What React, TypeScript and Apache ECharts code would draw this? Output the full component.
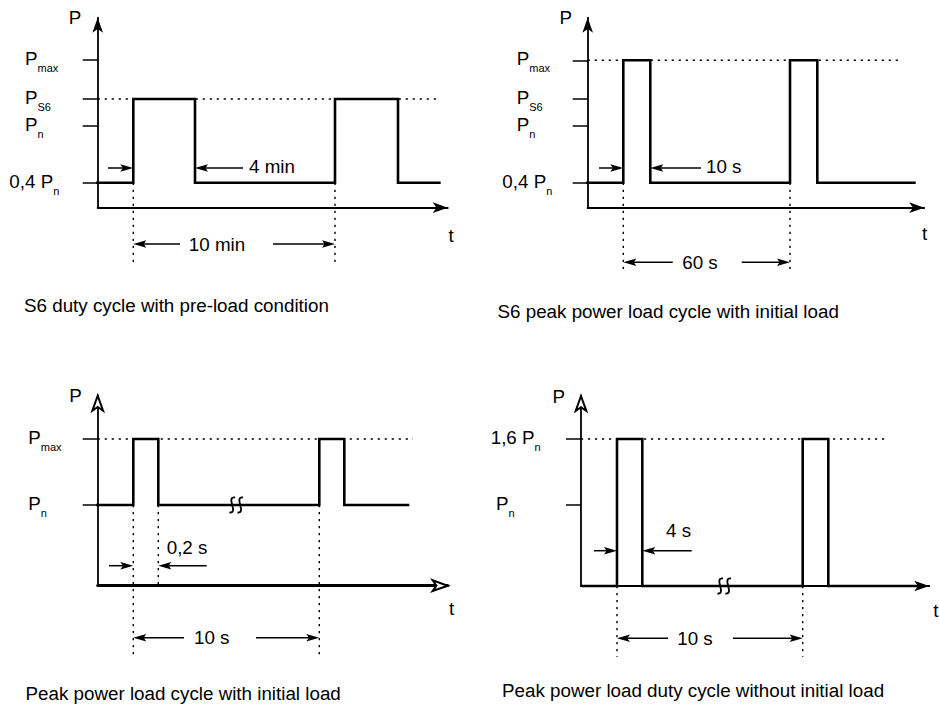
import React, { useEffect, useRef } from 'react';
import * as echarts from 'echarts';

const FONT = '"Liberation Sans", Arial, Helvetica, sans-serif';
const FS = 18.8; // main text size
const UNIT = 10; // pixels per diagram unit on both axes

// ---------- Panel 1: S6 duty cycle with pre-load condition ----------
const p1Caption = 'S6 duty cycle with pre-load condition';
const p1Time = [-1.47, 3.56, 3.56, 9.73, 9.73, 23.73, 23.73, 30.03, 30.03, 34.3];
const p1Power = [2.5, 2.5, 10.87, 10.87, 2.5, 2.5, 10.87, 10.87, 2.5, 2.5];
const p1TickValues = [14.77, 10.87, 8.17, 2.5];
const p1TickMain = ['P', 'P', 'P', '0,4 P'];
const p1TickSub = ['max', 'S6', 'n', 'n'];
const p1Guides = [[0, 10.87, 33.93, 10.87], [3.56, 2.5, 3.56, -5.43], [23.73, 2.5, 23.73, -5.43]];
const p1Arrows = [[1.03, 3.97, 3.56, 3.97], [14.53, 3.97, 9.73, 3.97], [8.23, -3.63, 3.56, -3.63], [17.53, -3.63, 23.73, -3.63]];
const p1Notes = ['4 min', '10 min'];
const p1NoteX = [15.13, 11.93];
const p1NoteY = [4.17, -3.63];
const p1Breaks: number[][] = [];

// ---------- Panel 2: S6 peak power load cycle with initial load ----------
const p2Caption = 'S6 peak power load cycle with initial load';
const p2Time = [-1.54, 3.56, 3.56, 6.26, 6.26, 20.23, 20.23, 22.96, 22.96, 32.8];
const p2Power = [2.5, 2.5, 14.74, 14.74, 2.5, 2.5, 14.74, 14.74, 2.5, 2.5];
const p2TickValues = [14.74, 10.87, 8.17, 2.5];
const p2TickMain = ['P', 'P', 'P', '0,4 P'];
const p2TickSub = ['max', 'S6', 'n', 'n'];
const p2Guides = [[0, 14.74, 31.33, 14.74], [3.56, 2.5, 3.56, -6.53], [20.23, 2.5, 20.23, -6.53]];
const p2Arrows = [[1.13, 3.97, 3.56, 3.97], [11.33, 3.97, 6.26, 3.97], [8.5, -5.46, 3.56, -5.46], [15.4, -5.46, 20.23, -5.46]];
const p2Notes = ['10 s', '60 s'];
const p2NoteX = [11.83, 11.23];
const p2NoteY = [4.17, -5.46];
const p2Breaks: number[][] = [];

// ---------- Panel 3: Peak power load cycle with initial load ----------
const p3Caption = 'Peak power load cycle with initial load';
const p3Time = [-1.47, 3.56, 3.56, 6.06, 6.06, 22.16, 22.16, 24.66, 24.66, 31.16];
const p3Power = [8.07, 8.07, 14.67, 14.67, 8.07, 8.07, 14.67, 14.67, 8.07, 8.07];
const p3TickValues = [14.67, 8.07];
const p3TickMain = ['P', 'P'];
const p3TickSub = ['max', 'n'];
const p3Guides = [[0, 14.67, 31.53, 14.67], [3.56, 8.07, 3.56, -6.93], [6.06, 8.07, 6.06, 0], [22.16, 8.07, 22.16, -6.93]];
const p3Arrows = [[1.13, 2.0, 3.56, 2.0], [10.9, 2.0, 6.06, 2.0], [8.63, -5.2, 3.56, -5.2], [15.83, -5.2, 22.16, -5.2]];
const p3Notes = ['0,2 s', '10 s'];
const p3NoteX = [6.9, 11.4];
const p3NoteY = [3.8, -5.2];
const p3Breaks = [[13.85, 8.07]];

// ---------- Panel 4: Peak power load duty cycle without initial load ----------
const p4Caption = 'Peak power load duty cycle without initial load';
const p4Time = [0, 3.6, 3.6, 6.13, 6.13, 22.17, 22.17, 24.73, 24.73, 34.0];
const p4Power = [0, 0, 14.7, 14.7, 0, 0, 14.7, 14.7, 0, 0];
const p4TickValues = [14.7, 8.1];
const p4TickMain = ['1,6 P', 'P'];
const p4TickSub = ['n', 'n'];
const p4Guides = [[0, 14.7, 30.7, 14.7], [3.6, 0, 3.6, -7.07], [22.17, 0, 22.17, -7.07]];
const p4Arrows = [[1.3, 3.53, 3.6, 3.53], [11.07, 3.53, 6.13, 3.53], [8.7, -5.23, 3.6, -5.23], [15.2, -5.23, 22.17, -5.23]];
const p4Notes = ['4 s', '10 s'];
const p4NoteX = [8.5, 11.4];
const p4NoteY = [5.53, -5.23];
const p4Breaks = [[14.32, 0]];

// axis ranges (diagram units) and axis titles
const axisXMax = [35, 33.65, 35, 34.82];
const axisYMax = [19, 19, 19, 19];
const xAxisTitle = 't';
const yAxisTitle = 'P';

const panels = [
  { caption: p1Caption, time: p1Time, power: p1Power, ticks: p1TickValues, main: p1TickMain, sub: p1TickSub, guides: p1Guides, arrows: p1Arrows, notes: p1Notes, noteX: p1NoteX, noteY: p1NoteY, breaks: p1Breaks },
  { caption: p2Caption, time: p2Time, power: p2Power, ticks: p2TickValues, main: p2TickMain, sub: p2TickSub, guides: p2Guides, arrows: p2Arrows, notes: p2Notes, noteX: p2NoteX, noteY: p2NoteY, breaks: p2Breaks },
  { caption: p3Caption, time: p3Time, power: p3Power, ticks: p3TickValues, main: p3TickMain, sub: p3TickSub, guides: p3Guides, arrows: p3Arrows, notes: p3Notes, noteX: p3NoteX, noteY: p3NoteY, breaks: p3Breaks },
  { caption: p4Caption, time: p4Time, power: p4Power, ticks: p4TickValues, main: p4TickMain, sub: p4TickSub, guides: p4Guides, arrows: p4Arrows, notes: p4Notes, noteX: p4NoteX, noteY: p4NoteY, breaks: p4Breaks },
];

// layout (pixels)
const layout = [
  { x0: 97.7, y0: 207.7, labelLeft: 9.3, prefix: 15.7, pShift: [-22.7, -2.7], tShift: [3.3, 27.3], capX: 24, capY: 305, yArrow: 'arrow', xArrow: 'arrow', xWidth: 2, noteAlign: ['left', 'center'] },
  { x0: 587.7, y0: 207.7, labelLeft: 502.3, prefix: 14.4, pShift: [-22, -3.5], tShift: [0.3, 25.3], capX: 497.5, capY: 311.3, yArrow: 'arrow', xArrow: 'arrow', xWidth: 2, noteAlign: ['left', 'center'] },
  { x0: 97.7, y0: 585.7, labelLeft: 28.3, prefix: 0, pShift: [-22.2, -4.9], tShift: [3.8, 23.1], capX: 25.5, capY: 693, yArrow: 'emptyArrow', xArrow: 'emptyArrow', xWidth: 3, noteAlign: ['left', 'center'] },
  { x0: 581, y0: 586, labelLeft: 490.7, prefix: 5.3, pShift: [-22.2, -4.8], tShift: [6.6, 24.8], capX: 502, capY: 690, yArrow: 'emptyArrow', xArrow: 'arrow', xWidth: 2, noteAlign: ['left', 'center'] },
];

function shiftPadding(sx: number, sy: number) {
  return [Math.max(0, 2 * sy), Math.max(0, -2 * sx), Math.max(0, -2 * sy), Math.max(0, 2 * sx)];
}

function buildOption() {
  const grid: any[] = [];
  const xAxis: any[] = [];
  const yAxis: any[] = [];
  const series: any[] = [];
  const title: any[] = [];

  panels.forEach((d, i) => {
    const L = layout[i];
    const xMax = axisXMax[i];
    const yMax = axisYMax[i];
    grid.push({
      left: L.x0,
      top: L.y0 - yMax * UNIT,
      width: xMax * UNIT,
      height: yMax * UNIT,
      outerBoundsMode: 'none',
      containLabel: false,
    });
    xAxis.push({
      type: 'value',
      gridIndex: i,
      min: 0,
      max: xMax,
      axisLine: {
        show: true,
        onZero: false,
        symbol: ['none', L.xArrow],
        symbolSize: [8, 15],
        lineStyle: { color: '#000', width: L.xWidth },
      },
      axisTick: { show: false },
      axisLabel: { show: false },
      splitLine: { show: false },
    });
    yAxis.push({
      type: 'value',
      gridIndex: i,
      min: 0,
      max: yMax,
      name: yAxisTitle,
      nameLocation: 'end',
      nameGap: 0,
      nameMoveOverlap: false,
      nameTextStyle: {
        fontSize: FS,
        fontFamily: FONT,
        color: '#000',
        align: 'center',
        verticalAlign: 'middle',
        padding: shiftPadding(L.pShift[0], L.pShift[1]),
      },
      axisLine: {
        show: true,
        onZero: false,
        symbol: ['none', L.yArrow],
        symbolSize: [8, 15],
        lineStyle: { color: '#000', width: 1.8 },
      },
      axisTick: {
        show: true,
        length: 15,
        customValues: d.ticks,
        lineStyle: { color: '#000', width: 1.5 },
      },
      axisLabel: {
        show: true,
        customValues: d.ticks,
        margin: L.x0 - L.labelLeft,
        align: 'left',
        verticalAlign: 'middle',
        formatter: (v: number) => {
          const k = d.ticks.findIndex((t) => Math.abs(t - v) < 1e-6);
          if (k < 0) return '';
          const m = d.main[k];
          const pre = m.length === 1 && L.prefix > 0 ? '{pre| }' : '';
          return pre + '{m|' + m + '}{s|' + d.sub[k] + '}';
        },
        rich: {
          pre: { width: L.prefix, fontSize: FS, fontFamily: FONT, lineHeight: 20 },
          m: { fontSize: FS, fontFamily: FONT, color: '#000', lineHeight: 20, padding: [0, 0, 3, 0], verticalAlign: 'middle' },
          s: { fontSize: 11, fontFamily: FONT, color: '#000', lineHeight: 12, padding: [16, 0, 0, 0], verticalAlign: 'middle' },
        },
      },
      splitLine: { show: false },
    });

    // dotted guide lines
    series.push({
      type: 'custom',
      xAxisIndex: i,
      yAxisIndex: i,
      silent: true,
      z: 1,
      data: d.guides,
      renderItem: (params: any, api: any) => {
        const a = api.coord([api.value(0), api.value(1)]);
        const b = api.coord([api.value(2), api.value(3)]);
        return {
          type: 'line',
          shape: { x1: a[0], y1: a[1], x2: b[0], y2: b[1] },
          style: { stroke: '#000', lineWidth: 1.4, lineDash: [2.2, 4.8] },
        };
      },
    });

    // signal
    series.push({
      type: 'line',
      xAxisIndex: i,
      yAxisIndex: i,
      clip: false,
      silent: true,
      z: 3,
      symbol: 'none',
      data: d.time.map((t, k) => [t, d.power[k]]),
      lineStyle: { color: '#000', width: 2.6, join: 'miter', cap: 'butt' },
    });

    // dimension arrows
    series.push({
      type: 'custom',
      xAxisIndex: i,
      yAxisIndex: i,
      silent: true,
      z: 4,
      data: d.arrows,
      renderItem: (params: any, api: any) => {
        const a = api.coord([api.value(0), api.value(1)]);
        const b = api.coord([api.value(2), api.value(3)]);
        const dx = b[0] - a[0];
        const dy = b[1] - a[1];
        const len = Math.hypot(dx, dy) || 1;
        const ux = dx / len;
        const uy = dy / len;
        const HL = 13;
        const HW = 3.8;
        const bx = b[0] - ux * HL;
        const by = b[1] - uy * HL;
        const nx = -uy;
        const ny = ux;
        return {
          type: 'group',
          children: [
            {
              type: 'line',
              shape: { x1: a[0], y1: a[1], x2: bx + ux * 3, y2: by + uy * 3 },
              style: { stroke: '#000', lineWidth: 1.5 },
            },
            {
              type: 'polygon',
              shape: {
                points: [
                  [b[0], b[1]],
                  [bx + nx * HW, by + ny * HW],
                  [b[0] - ux * HL * 0.8, b[1] - uy * HL * 0.8],
                  [bx - nx * HW, by - ny * HW],
                ],
              },
              style: { fill: '#000' },
            },
          ],
        };
      },
    });

    // annotation texts
    series.push({
      type: 'custom',
      xAxisIndex: i,
      yAxisIndex: i,
      silent: true,
      z: 5,
      data: d.noteX.map((x, k) => [x, d.noteY[k]]),
      renderItem: (params: any, api: any) => {
        const p = api.coord([api.value(0), api.value(1)]);
        return {
          type: 'text',
          x: p[0],
          y: p[1],
          style: {
            text: d.notes[params.dataIndex],
            fontSize: FS,
            fontFamily: FONT,
            fill: '#000',
            align: L.noteAlign[params.dataIndex],
            verticalAlign: 'middle',
          },
        };
      },
    });

    // time-axis title "t", placed below the arrow end of the x axis
    series.push({
      type: 'custom',
      xAxisIndex: i,
      yAxisIndex: i,
      silent: true,
      z: 5,
      data: [[xMax, 0]],
      renderItem: (params: any, api: any) => {
        const p = api.coord([api.value(0), api.value(1)]);
        return {
          type: 'text',
          x: p[0] + L.tShift[0],
          y: p[1] + L.tShift[1],
          style: {
            text: xAxisTitle,
            fontSize: FS,
            fontFamily: FONT,
            fill: '#000',
            align: 'center',
            verticalAlign: 'middle',
          },
        };
      },
    });

    // break marks
    if (d.breaks.length) {
      series.push({
        type: 'custom',
        xAxisIndex: i,
        yAxisIndex: i,
        silent: true,
        z: 6,
        data: d.breaks,
        renderItem: (params: any, api: any) => {
          const c = api.coord([api.value(0), api.value(1)]);
          const s = (cx: number) => ({
            type: 'bezierCurve',
            shape: {
              x1: cx + 2.8, y1: c[1] - 7.5,
              cpx1: cx - 7, cpy1: c[1] - 8.5,
              cpx2: cx + 7, cpy2: c[1] + 8.5,
              x2: cx - 2.8, y2: c[1] + 7.5,
            },
            style: { stroke: '#000', lineWidth: 1.8, fill: 'none' },
          });
          return { type: 'group', children: [s(c[0] - 4), s(c[0] + 4)] };
        },
      });
    }

    title.push({
      text: d.caption,
      left: L.capX,
      top: L.capY - 10,
      padding: 0,
      textStyle: { fontSize: FS, fontFamily: FONT, fontWeight: 'normal', color: '#000', lineHeight: 20 },
    });
  });

  return {
    animation: false,
    backgroundColor: '#fff',
    title,
    grid,
    xAxis,
    yAxis,
    series,
  };
}

export default function App() {
  const ref = useRef<HTMLDivElement>(null);
  useEffect(() => {
    if (!ref.current) return;
    const chart = echarts.init(ref.current, null, { renderer: 'svg' });
    chart.setOption(buildOption() as any);
    return () => chart.dispose();
  }, []);
  return (
    <div
      ref={ref}
      style={{ position: 'absolute', left: 0, top: 0, width: 939, height: 706, background: '#fff' }}
    />
  );
}
